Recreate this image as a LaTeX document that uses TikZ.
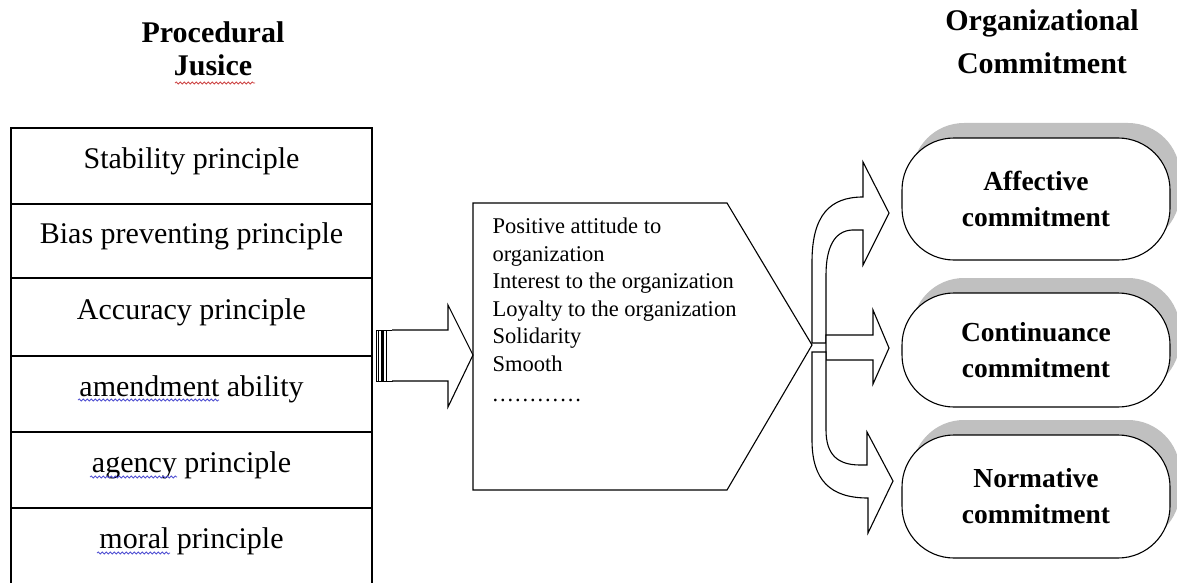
\documentclass[tikz,border=0pt]{standalone}
\usepackage{fontspec}
\setmainfont{Liberation Serif}
\usetikzlibrary{shadows,decorations.pathmorphing}
\definecolor{shadowgray}{RGB}{192,192,192}
\definecolor{squigred}{RGB}{205,70,70}
\definecolor{squigblue}{RGB}{80,80,210}
\newcommand\mydot{.\hspace{1.9pt}}
\begin{document}
\begin{tikzpicture}[x=1pt,y=-1pt,line width=1.1pt,
  rowbox/.style={draw,minimum width=361pt,inner sep=0pt,text height=20pt,text depth=16pt,
    font=\fontsize{30}{34}\selectfont},
  title/.style={align=center,font=\bfseries\fontsize{30}{33}\selectfont},
  pill/.style={draw,fill=white,rounded corners=52pt,minimum width=268pt,align=center,
    font=\bfseries\fontsize{27.5}{36}\selectfont,
    drop shadow={shadow xshift=10pt,shadow yshift=15pt,fill=shadowgray,opacity=1}},
  blockarrow/.style={draw,fill=white,line join=miter},
  squig/.style={line width=0.8pt,decorate,decoration={snake,segment length=4pt,amplitude=1pt}}]
\path[use as bounding box,clip] (0,0) rectangle (1177,583);

% titles
\node[title] (tpj) at (213,48.7) {Procedural\\Jusice};
\node[title,font=\bfseries\fontsize{30}{43}\selectfont] (toc) at (1042,42) {Organizational\\Commitment};

% left table
\node[rowbox,minimum height=76pt] (r1) at (191.5,166) {Stability principle};
\node[rowbox,minimum height=74pt] (r2) at (191.5,241) {Bias preventing principle};
\node[rowbox,minimum height=78pt] (r3) at (191.5,317) {Accuracy principle};
\node[rowbox,minimum height=76pt] (r4) at (191.5,394) {amendment ability};
\node[rowbox,minimum height=76pt] (r5) at (191.5,470) {agency principle};
\node[rowbox,minimum height=76pt] (r6) at (191.5,546) {moral principle};

% spell-check underlines
\draw[squig,squigred] (175,83) -- (255,83);
\draw[squig,squigblue] (78,400) -- (219,400);
\draw[squig,squigblue] (90,477) -- (177,477);
\draw[squig,squigblue] (97,553) -- (170,553);

% striped block arrow from table to middle box
\draw[line width=1pt] (376,330) rectangle (392,381);
\fill (381,330) rectangle (383.5,381);
\draw[line width=0.8pt] (378.5,330) -- (378.5,381);
\draw[line width=0.8pt] (386.5,330) -- (386.5,381);
\draw[blockarrow] (392,330) -- (448,330) -- (448,305) -- (473,355) -- (448,407) -- (448,381) -- (392,381);

% middle pentagon box
\draw[line join=miter] (473,203) -- (727,203) -- (812,345) -- (727,490) -- (473,490) -- cycle;
\node[anchor=north west,inner sep=0pt,align=left,font=\fontsize{22.5}{27.5}\selectfont] (attrs) at (492,217.5)
  {Positive attitude to\\organization\\Interest to the organization\\Loyalty to the organization\\Solidarity\\Smooth\\[2.5pt]
   \mydot\mydot\mydot\mydot\mydot\mydot\mydot\mydot\mydot\mydot\mydot.};

% curved block arrows
\draw[blockarrow] (812,343) -- (812,262) .. controls (812,215) and (830,197) .. (863,197)
  -- (863,162) -- (889,213) -- (863,265) -- (863,230) -- (852,230)
  .. controls (834,231) and (826,248) .. (826,275) -- (826,343) -- cycle;
\draw[blockarrow] (826,335) -- (873,335) -- (873,310) -- (889,348) -- (873,384) -- (873,360) -- (826,360) -- cycle;
\draw[blockarrow] (812,352) -- (812,440) .. controls (812,480) and (830,498) .. (868,498)
  -- (868,533) -- (893,481) -- (867,432) -- (867,465) -- (860,465)
  .. controls (838,465) and (826,455) .. (826,430) -- (826,352) -- cycle;

% commitment pills
\node[pill,minimum height=122pt] (aff) at (1036,199) {Affective\\commitment};
\node[pill,minimum height=114pt] (con) at (1036,350) {Continuance\\commitment};
\node[pill,minimum height=123pt] (nor) at (1036,496.5) {Normative\\commitment};
\end{tikzpicture}
\end{document}
